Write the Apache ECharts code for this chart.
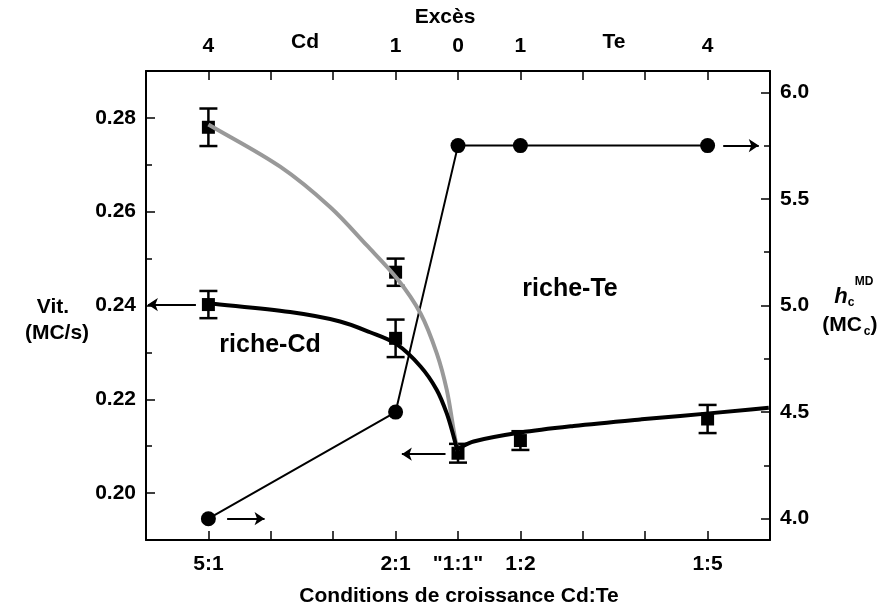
<!DOCTYPE html>
<html><head><meta charset="utf-8">
<script src="https://cdn.jsdelivr.net/npm/echarts@6/dist/echarts.min.js"></script>
<style>html,body{margin:0;padding:0;background:#fff}#c{width:890px;height:611px}</style>
</head><body><div id="c"></div>
<script>
// ---- data ----
const tickValues = [-4, -1, 0, 1, 4];
const bottomTickLabels = ['5:1', '2:1', '"1:1"', '1:2', '1:5'];
const topTickLabels = ['4', '1', '0', '1', '4'];
const topGroupValues = [-2.45, 2.5];
const topGroupLabels = ['Cd', 'Te'];
const leftTicks = [0.20, 0.22, 0.24, 0.26, 0.28];
const leftMinor = [0.21, 0.23, 0.25, 0.27];
const rightTicks = [4.0, 4.5, 5.0, 5.5, 6.0];
const rightMinor = [4.25, 4.75, 5.25, 5.75];

// growth speed (left axis) with error bars
const vitX = [-4, -4, -1, -1, 0, 1, 4];
const vitY = [0.2780, 0.2402, 0.2471, 0.2330, 0.2085, 0.2112, 0.2158];
const vitErr = [0.0040, 0.0029, 0.0029, 0.0040, 0.0020, 0.0020, 0.0030];

// h_c^MD (right axis)
const hcX = [-4, -1, 0, 1, 4];
const hcY = [4.00, 4.50, 5.75, 5.75, 5.75];

// fitted curves
const fitCdBlackX = [-4, -2.69, -1.89, -1.41, -0.99, -0.60, -0.34, -0.18, -0.07, 0];
const fitCdBlackY = [0.2405, 0.2386, 0.2366, 0.2343, 0.2318, 0.2270, 0.2220, 0.2170, 0.2121, 0.2085];
const fitCdGrayX = [-4, -2.85, -2.05, -1.46, -0.98, -0.60, -0.34, -0.18, -0.07, -0.01];
const fitCdGrayY = [0.2786, 0.2696, 0.2610, 0.2528, 0.2458, 0.2383, 0.2298, 0.2220, 0.2135, 0.2090];
const fitTeX = [0, 0.25, 1.0, 1.85, 2.92, 4.02, 4.98];
const fitTeY = [0.2095, 0.2110, 0.2129, 0.2143, 0.2157, 0.2170, 0.2182];

// arrows: [x0, y0, x1, y1]
const arrowsLeft = [[-4.2, 0.2402, -4.97, 0.2402], [-0.2, 0.2083, -0.9, 0.2083]];
const arrowsRight = [[-3.7, 4.0, -3.1, 4.0], [4.25, 5.75, 4.82, 5.75]];

// ---- chart ----
const FONT = '"Liberation Sans", Arial, sans-serif';
const chart = echarts.init(document.getElementById('c'), null, {renderer: 'canvas'});
const axisLineStyle = {color: '#000', width: 2};
const pair = (xs, ys) => xs.map((x, i) => [x, ys[i]]);

function xAxisDef(pos, labels, extraVals, extraLabels) {
  const vals = tickValues.concat(extraVals);
  const labs = labels.concat(extraLabels);
  return {
    type: 'value', position: pos, min: -5, max: 5, interval: 1,
    axisLine: {show: true, onZero: false, lineStyle: axisLineStyle},
    axisTick: {show: true, inside: true, length: 9, lineStyle: {color: '#000', width: 1.5}},
    splitLine: {show: false},
    axisLabel: {
      customValues: vals,
      margin: 14,
      color: '#000', fontFamily: FONT, fontWeight: 'bold', fontSize: 21,
      formatter: v => {
        const i = vals.findIndex(t => Math.abs(t - v) < 1e-6);
        if (i < 0) return '';
        return i >= tickValues.length ? '{g|' + labs[i] + '}' : labs[i];
      },
      rich: {g: {fontFamily: FONT, fontWeight: 'bold', fontSize: 21, color: '#000', padding: [0, 0, 4, 0]}}
    }
  };
}

function yAxisDef(pos, min, max, ticks, minor, fmt, show) {
  return {
    type: 'value', position: pos, min: min, max: max,
    axisLine: {show: show, onZero: false, lineStyle: axisLineStyle},
    axisTick: {show: true, inside: true, length: show ? 9 : 6, customValues: show ? ticks : minor,
      lineStyle: {color: '#000', width: 1.5}},
    splitLine: {show: false},
    axisLabel: {show: show, customValues: ticks, margin: 10, color: '#000', fontFamily: FONT,
      fontWeight: 'bold', fontSize: 21, formatter: fmt}
  };
}

const errorBars = {
  type: 'custom', xAxisIndex: 0, yAxisIndex: 0, z: 3,
  encode: {x: 0, y: [1, 2]},
  data: vitX.map((x, i) => [x, vitY[i] - vitErr[i], vitY[i] + vitErr[i]]),
  renderItem: (params, api) => {
    const x = api.value(0);
    const lo = api.coord([x, api.value(1)]);
    const hi = api.coord([x, api.value(2)]);
    const w = 9, st = {stroke: '#000', lineWidth: 2.5};
    return {type: 'group', children: [
      {type: 'line', shape: {x1: lo[0], y1: lo[1], x2: hi[0], y2: hi[1]}, style: st},
      {type: 'line', shape: {x1: lo[0] - w, y1: lo[1], x2: lo[0] + w, y2: lo[1]}, style: st},
      {type: 'line', shape: {x1: hi[0] - w, y1: hi[1], x2: hi[0] + w, y2: hi[1]}, style: st}
    ]};
  }
};

// smooth curve through the read points (cubic Hermite, length-weighted tangents) in pixel space
function curveSeries(xs, ys, color, z) {
  return {
    type: 'custom', xAxisIndex: 0, yAxisIndex: 0, z: z, silent: true,
    data: [[xs[0], ys[0]]],
    renderItem: (params, api) => {
      const p = xs.map((x, i) => api.coord([x, ys[i]]));
      const n = p.length;
      const dist = (a, b) => Math.hypot(b[0] - a[0], b[1] - a[1]);
      const d = [];
      for (let i = 0; i < n - 1; i++) d.push(dist(p[i], p[i + 1]));
      const m = p.map((pt, i) => {
        if (i === 0) return [(p[1][0] - p[0][0]) / d[0], (p[1][1] - p[0][1]) / d[0]];
        if (i === n - 1) return [(p[n - 1][0] - p[n - 2][0]) / d[n - 2], (p[n - 1][1] - p[n - 2][1]) / d[n - 2]];
        const s = d[i - 1] + d[i];
        return [(p[i + 1][0] - p[i - 1][0]) / s, (p[i + 1][1] - p[i - 1][1]) / s];
      });
      let path = 'M' + p[0][0] + ' ' + p[0][1];
      for (let i = 0; i < n - 1; i++) {
        const k = d[i] / 3;
        const c1 = [p[i][0] + m[i][0] * k, p[i][1] + m[i][1] * k];
        const c2 = [p[i + 1][0] - m[i + 1][0] * k, p[i + 1][1] - m[i + 1][1] * k];
        path += ' C' + c1[0] + ' ' + c1[1] + ' ' + c2[0] + ' ' + c2[1] + ' ' + p[i + 1][0] + ' ' + p[i + 1][1];
      }
      return {type: 'path', shape: {pathData: path},
        style: {stroke: color, lineWidth: 4, fill: null, lineCap: 'butt', lineJoin: 'round'}};
    }
  };
}

function arrowSeries(list, yIdx) {
  return {
    type: 'lines', coordinateSystem: 'cartesian2d', xAxisIndex: 0, yAxisIndex: yIdx, z: 4,
    symbol: ['none', 'arrow'], symbolSize: [0, 10],
    lineStyle: {color: '#000', width: 1.8, opacity: 1},
    data: list.map(a => ({coords: [[a[0], a[1]], [a[2], a[3]]]})),
    silent: true
  };
}

const txt = (text, x, y, font, align) => ({type: 'text', x: x, y: y, silent: true,
  style: {text: text, font: font, fill: '#000', textAlign: align || 'center', textVerticalAlign: 'middle'}});

const option = {
  animation: false,
  backgroundColor: '#fff',
  grid: {left: 146, right: 120, top: 71, bottom: 71, containLabel: false},
  xAxis: [
    xAxisDef('bottom', bottomTickLabels, [], []),
    xAxisDef('top', topTickLabels, topGroupValues, topGroupLabels)
  ],
  yAxis: [
    yAxisDef('left', 0.19, 0.29, leftTicks, leftMinor, v => v.toFixed(2), true),
    yAxisDef('right', 3.9, 6.1, rightTicks, rightMinor, v => v.toFixed(1), true),
    yAxisDef('left', 0.19, 0.29, leftTicks, leftMinor, v => '', false),
    yAxisDef('right', 3.9, 6.1, rightTicks, rightMinor, v => '', false)
  ],
  graphic: [
    txt('Excès', 445, 17, 'bold 21px ' + FONT),
    txt('Conditions de croissance Cd:Te', 459, 596, 'bold 21px ' + FONT),
    txt('Vit.', 53, 307, 'bold 21px ' + FONT),
    txt('(MC/s)', 57, 333, 'bold 21px ' + FONT),
    txt('h', 841, 297, 'italic bold 22px ' + FONT),
    txt('c', 851, 303, 'bold 12px ' + FONT),
    txt('MD', 864, 282, 'bold 12px ' + FONT),
    txt('(MC', 842, 325, 'bold 21px ' + FONT),
    txt('c', 867, 332, 'bold 12px ' + FONT),
    txt(')', 874, 325, 'bold 21px ' + FONT),
    txt('riche-Cd', 270, 345, 'bold 25px ' + FONT),
    txt('riche-Te', 570, 289, 'bold 25px ' + FONT)
  ],
  series: [
    {type: 'line', xAxisIndex: 0, yAxisIndex: 1, data: pair(hcX, hcY), z: 2,
      symbol: 'circle', symbolSize: 15, itemStyle: {color: '#000', opacity: 1},
      lineStyle: {color: '#000', width: 2}},
    errorBars,
    {type: 'scatter', xAxisIndex: 0, yAxisIndex: 0, data: pair(vitX, vitY), z: 3,
      symbol: 'rect', symbolSize: 13, itemStyle: {color: '#000', opacity: 1}},
    curveSeries(fitCdGrayX, fitCdGrayY, '#999', 5),
    curveSeries(fitCdBlackX, fitCdBlackY, '#000', 6),
    curveSeries(fitTeX, fitTeY, '#000', 6),
    arrowSeries(arrowsLeft, 0),
    arrowSeries(arrowsRight, 1)
  ]
};
chart.setOption(option);
</script>
</body></html>
